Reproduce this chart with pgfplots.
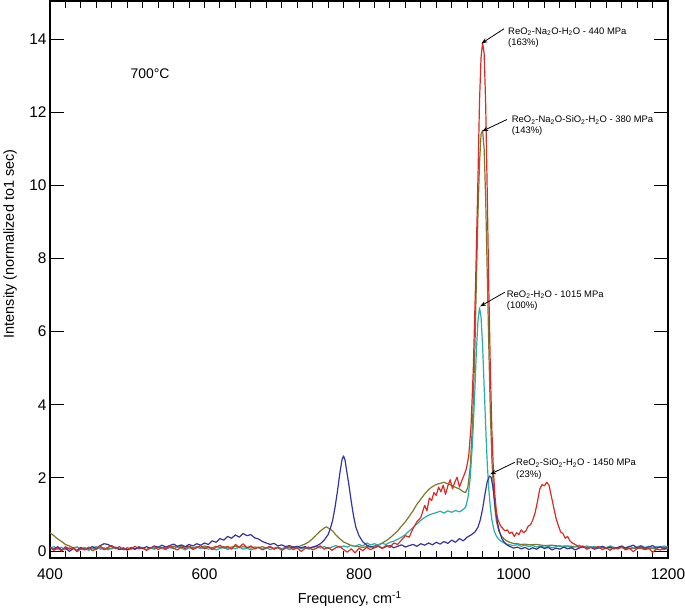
\documentclass[border=0pt]{standalone}
\usepackage{pgfplots}
\pgfplotsset{compat=1.18}
\usepackage{fontspec}
\setmainfont{Liberation Sans}
\usetikzlibrary{arrows.meta}
\definecolor{cred}{RGB}{216,44,38}
\definecolor{colive}{RGB}{128,118,40}
\definecolor{ccyan}{RGB}{40,172,172}
\definecolor{cblue}{RGB}{52,52,158}
\begin{document}
\begin{tikzpicture}
\begin{axis}[
  scale only axis, width=618bp, height=557bp,
  xmin=400, xmax=1200, ymin=-0.19, ymax=15.04,
  xtick={400,600,...,1200}, ytick={0,2,...,14},
  minor xtick={400,420,...,1200},
  major x tick style={draw opacity=0},
  tick align=inside,
  major tick length=14bp, minor tick length=7bp,
  every tick/.style={black, line width=1bp},
  axis line style={line width=1.2bp},
  ticklabel style={font=\fontsize{15.5}{18}\selectfont},
  xticklabel style={yshift=-7bp},
  /pgf/number format/assume math mode=true,
  /pgf/number format/1000 sep={},
  xlabel={Frequency, cm\textsuperscript{-1}},
  ylabel={Intensity (normalized to1 sec)},
  label style={font=\fontsize{14.5}{17}\selectfont},
  xlabel style={at={(axis description cs:0.485,-0.0736)}, anchor=center},
  ylabel style={at={(axis description cs:-0.0647,0.564)}, anchor=center, rotate=0},
  every axis plot/.append style={line width=1.2bp, line join=round},
  clip=true,
]
\coordinate (bl) at (rel axis cs:0,0);
\coordinate (tr) at (rel axis cs:1,1);
% olive: ReO2-Na2O-SiO2-H2O
\addplot[colive] table {
400 0.50
405 0.42
410 0.33
415 0.26
420 0.18
425 0.14
430 0.09
435 0.11
440 0.06
445 0.08
450 0.03
455 0.07
460 0.05
465 0.09
470 0.04
475 0.08
480 0.06
485 0.10
490 0.05
495 0.07
500 0.03
505 0.08
510 0.05
515 0.10
520 0.07
525 0.04
530 0.09
535 0.06
540 0.11
545 0.08
550 0.12
555 0.09
560 0.13
565 0.10
570 0.14
575 0.11
580 0.13
585 0.09
590 0.12
595 0.10
600 0.14
605 0.11
610 0.09
615 0.13
620 0.10
625 0.12
630 0.08
635 0.11
640 0.13
645 0.09
650 0.12
655 0.10
660 0.08
665 0.11
670 0.09
675 0.12
680 0.08
685 0.10
690 0.07
695 0.09
700 0.06
705 0.10
710 0.08
715 0.12
720 0.10
725 0.15
730 0.19
735 0.25
740 0.34
745 0.45
750 0.55
755 0.63
758 0.66
761 0.62
764 0.58
767 0.52
770 0.44
775 0.34
780 0.25
785 0.20
790 0.15
795 0.13
800 0.12
805 0.10
810 0.12
815 0.11
820 0.14
825 0.17
830 0.22
835 0.28
840 0.36
845 0.45
850 0.55
855 0.68
860 0.80
865 0.95
870 1.10
875 1.28
880 1.42
885 1.56
890 1.68
895 1.76
900 1.82
905 1.85
910 1.88
915 1.84
920 1.80
925 1.74
930 1.70
935 1.62
938 1.60
941 1.75
944 2.30
947 3.50
950 5.50
952 7.40
954 9.20
956 10.6
958 11.4
960 11.5
962 11.0
964 9.6
966 7.6
968 5.6
970 3.8
972 2.5
974 1.7
976 1.15
978 0.80
981 0.55
984 0.42
988 0.33
992 0.27
996 0.23
1000 0.21
1005 0.20
1010 0.18
1015 0.19
1020 0.17
1030 0.18
1040 0.15
1050 0.16
1060 0.13
1070 0.14
1080 0.12
1090 0.10
1100 0.11
1110 0.08
1120 0.10
1130 0.07
1140 0.09
1150 0.06
1160 0.08
1170 0.05
1180 0.07
1190 0.04
1200 0.06
};
% cyan: ReO2-H2O
\addplot[ccyan] table {
400 0.08
405 0.12
410 0.05
415 0.10
420 0.03
425 0.09
430 0.06
435 0.11
440 0.04
445 0.10
450 0.02
455 0.08
460 0.12
465 0.05
470 0.09
475 0.03
480 0.08
485 0.11
490 0.05
495 0.09
500 0.04
505 0.10
510 0.06
515 0.12
520 0.07
525 0.03
530 0.09
535 0.05
540 0.11
545 0.07
550 0.04
555 0.10
560 0.06
565 0.12
570 0.08
575 0.03
580 0.09
585 0.05
590 0.11
595 0.07
600 0.10
605 0.05
610 0.08
615 0.03
620 0.07
625 0.10
630 0.04
635 0.09
640 0.06
645 0.11
650 0.05
655 0.08
660 0.03
665 0.07
670 0.10
675 0.05
680 0.09
685 0.04
690 0.08
695 0.11
700 0.06
705 0.09
710 0.04
715 0.08
720 0.12
725 0.06
730 0.10
735 0.05
740 0.09
745 0.13
750 0.08
755 0.12
760 0.07
765 0.11
770 0.15
775 0.10
780 0.14
785 0.11
790 0.16
795 0.13
800 0.18
805 0.14
810 0.22
815 0.17
820 0.20
825 0.16
830 0.21
835 0.18
840 0.24
845 0.27
850 0.32
855 0.38
860 0.45
865 0.55
870 0.64
875 0.74
880 0.84
885 0.92
890 0.98
895 1.02
900 1.05
905 1.09
910 1.04
915 1.10
920 1.06
925 1.11
930 1.07
935 1.14
938 1.20
941 1.45
944 2.00
947 3.00
950 4.40
952 5.50
954 6.30
956 6.65
958 6.40
960 5.60
962 4.50
964 3.40
966 2.40
968 1.70
970 1.20
972 0.85
975 0.55
978 0.40
982 0.30
986 0.24
990 0.20
995 0.17
1000 0.15
1005 0.18
1010 0.13
1015 0.16
1020 0.12
1025 0.15
1030 0.11
1035 0.14
1040 0.10
1045 0.13
1050 0.09
1055 0.12
1060 0.15
1065 0.10
1070 0.13
1075 0.09
1080 0.12
1085 0.16
1090 0.11
1095 0.14
1100 0.10
1105 0.13
1110 0.08
1115 0.12
1120 0.09
1125 0.14
1130 0.10
1135 0.07
1140 0.12
1145 0.09
1150 0.13
1155 0.08
1160 0.11
1165 0.15
1170 0.10
1175 0.13
1180 0.08
1185 0.12
1190 0.10
1195 0.14
1200 0.11
};
% blue: ReO2-SiO2-H2O
\addplot[cblue] table {
400 0.10
405 0.05
410 0.12
415 0.03
420 0.09
425 -0.01
430 0.07
435 0.02
440 0.10
445 0.04
450 0.08
455 0.12
460 0.07
465 0.15
470 0.20
475 0.18
480 0.12
485 0.09
490 0.04
495 0.08
500 0.03
505 0.09
510 0.05
515 0.11
520 0.07
525 0.12
530 0.08
535 0.14
540 0.10
545 0.16
550 0.11
555 0.15
560 0.19
565 0.13
570 0.17
575 0.12
580 0.18
585 0.14
590 0.20
595 0.16
600 0.22
605 0.18
610 0.28
615 0.24
620 0.34
625 0.30
630 0.40
635 0.35
640 0.44
645 0.38
650 0.48
655 0.42
660 0.45
665 0.36
670 0.33
675 0.26
680 0.22
685 0.18
690 0.21
695 0.14
700 0.17
705 0.12
710 0.15
715 0.10
720 0.13
725 0.09
730 0.12
735 0.08
740 0.11
745 0.14
750 0.20
755 0.30
760 0.45
763 0.62
766 0.85
769 1.20
772 1.62
775 2.10
778 2.50
780 2.60
782 2.48
784 2.20
787 1.80
790 1.35
793 0.95
796 0.65
800 0.42
805 0.25
810 0.16
815 0.12
820 0.10
825 0.14
830 0.08
835 0.12
840 0.15
845 0.09
850 0.13
855 0.17
860 0.11
865 0.15
870 0.18
875 0.13
880 0.20
885 0.16
890 0.22
895 0.17
900 0.24
905 0.19
910 0.26
915 0.21
920 0.30
925 0.24
930 0.34
935 0.28
940 0.38
945 0.44
950 0.52
954 0.65
957 0.85
960 1.15
963 1.55
966 1.90
969 2.05
971 2.02
973 1.80
975 1.45
977 1.10
979 0.80
982 0.52
985 0.34
988 0.24
992 0.16
996 0.12
1000 0.08
1005 0.11
1010 0.06
1015 0.10
1020 0.04
1025 0.09
1030 0.05
1035 0.12
1040 0.07
1045 0.10
1050 0.03
1055 0.08
1060 0.05
1065 0.11
1070 0.06
1075 0.09
1080 0.03
1085 0.08
1090 0.12
1095 0.06
1100 0.10
1105 0.05
1110 0.09
1115 0.13
1120 0.07
1125 0.11
1130 0.06
1135 0.10
1140 0.14
1145 0.08
1150 0.12
1155 0.16
1160 0.09
1165 0.13
1170 0.07
1175 0.11
1180 0.15
1185 0.08
1190 0.12
1195 0.06
1200 0.10
};
% red: ReO2-Na2O-H2O
\addplot[cred] table {
400 0.10
405 0.02
410 0.08
415 0.00
420 0.12
425 0.05
430 0.09
435 -0.02
440 0.07
445 0.03
450 0.11
455 0.01
460 0.06
465 0.14
470 0.04
475 0.10
480 0.15
485 0.07
490 0.12
495 0.03
500 0.09
505 0.05
510 0.13
515 0.06
520 0.10
525 0.02
530 0.08
535 0.12
540 0.04
545 0.10
550 0.06
555 0.14
560 0.08
565 0.03
570 0.11
575 0.07
580 0.13
585 0.05
590 0.09
595 0.15
600 0.06
605 0.12
610 0.04
615 0.10
620 0.16
625 0.08
630 0.13
635 0.05
640 0.18
645 0.10
650 0.20
655 0.09
660 0.14
665 0.06
670 0.11
675 0.03
680 0.09
685 0.13
690 0.05
695 0.10
700 0.02
705 0.08
710 0.12
715 0.04
720 0.09
725 -0.01
730 0.07
735 0.11
740 0.03
745 0.08
750 0.14
755 0.05
760 0.10
765 0.02
770 0.09
775 0.13
780 0.04
785 -0.03
790 0.06
795 -0.05
800 0.08
805 0.01
810 0.10
815 0.04
820 0.09
825 0.13
830 0.07
835 0.15
840 0.10
845 0.22
850 0.18
855 0.30
860 0.42
865 0.38
870 0.62
875 0.80
880 0.92
885 1.25
888 1.10
891 1.45
894 1.38
897 1.60
900 1.52
903 1.75
906 1.62
909 1.80
912 1.55
915 1.78
918 1.95
921 1.70
924 1.88
927 2.02
930 1.75
933 1.92
936 2.08
939 2.25
942 2.60
945 3.40
948 5.00
951 7.40
954 10.2
956 12.3
958 13.5
960 13.9
962 13.6
964 12.2
966 9.8
968 7.2
970 5.0
972 3.3
974 2.2
976 1.50
978 1.05
980 0.85
983 0.70
986 0.62
989 0.55
992 0.58
995 0.48
998 0.52
1001 0.40
1004 0.50
1007 0.45
1010 0.58
1013 0.50
1016 0.55
1019 0.68
1022 0.72
1025 0.85
1028 1.05
1031 1.35
1034 1.70
1037 1.82
1040 1.78
1043 1.88
1046 1.80
1049 1.50
1052 1.20
1055 0.90
1058 0.70
1061 0.52
1064 0.48
1067 0.35
1070 0.40
1073 0.28
1076 0.22
1080 0.18
1085 0.10
1090 0.14
1095 0.05
1100 0.11
1105 0.07
1110 0.13
1115 0.04
1120 0.09
1125 0.02
1130 0.10
1135 0.06
1140 0.12
1145 0.03
1150 0.08
1155 -0.02
1160 0.07
1165 0.11
1170 0.04
1175 0.09
1180 -0.04
1185 0.06
1190 0.03
1195 0.10
1200 0.07
};
% annotations
\node[anchor=center, font=\fontsize{14}{16}\selectfont] at (axis cs:529.4,13.06) {700°C};
\begin{scope}[every node/.style={anchor=north west, align=left, inner sep=0pt, font=\fontsize{9.5}{11.5}\selectfont}]
\node at (axis cs:992.9,14.32) {ReO\textsubscript{2}-Na\textsubscript{2}O-H\textsubscript{2}O - 440 MPa\\(163\%)};
\node at (axis cs:997.6,11.91) {ReO\textsubscript{2}-Na\textsubscript{2}O-SiO\textsubscript{2}-H\textsubscript{2}O - 380 MPa\\(143\%)};
\node at (axis cs:991.2,7.12) {ReO\textsubscript{2}-H\textsubscript{2}O - 1015 MPa\\(100\%)};
\node at (axis cs:1003.2,2.52) {ReO\textsubscript{2}-SiO\textsubscript{2}-H\textsubscript{2}O - 1450 MPa\\(23\%)};
\end{scope}
\begin{scope}[line width=0.8bp, -{Stealth[length=6bp,width=4.5bp]}]
\draw (axis cs:987.7,14.28) -- (axis cs:958.5,13.88);
\draw (axis cs:991.6,11.80) -- (axis cs:959.5,11.48);
\draw (axis cs:989.0,7.08) -- (axis cs:956.8,6.69);
\draw (axis cs:1002.0,2.43) -- (axis cs:969.8,2.10);
\end{scope}
\end{axis}
\pgfresetboundingbox
\path ([shift={(-50bp,-53bp)}]bl) rectangle ([shift={(17bp,1bp)}]tr);
\end{tikzpicture}
\end{document}
